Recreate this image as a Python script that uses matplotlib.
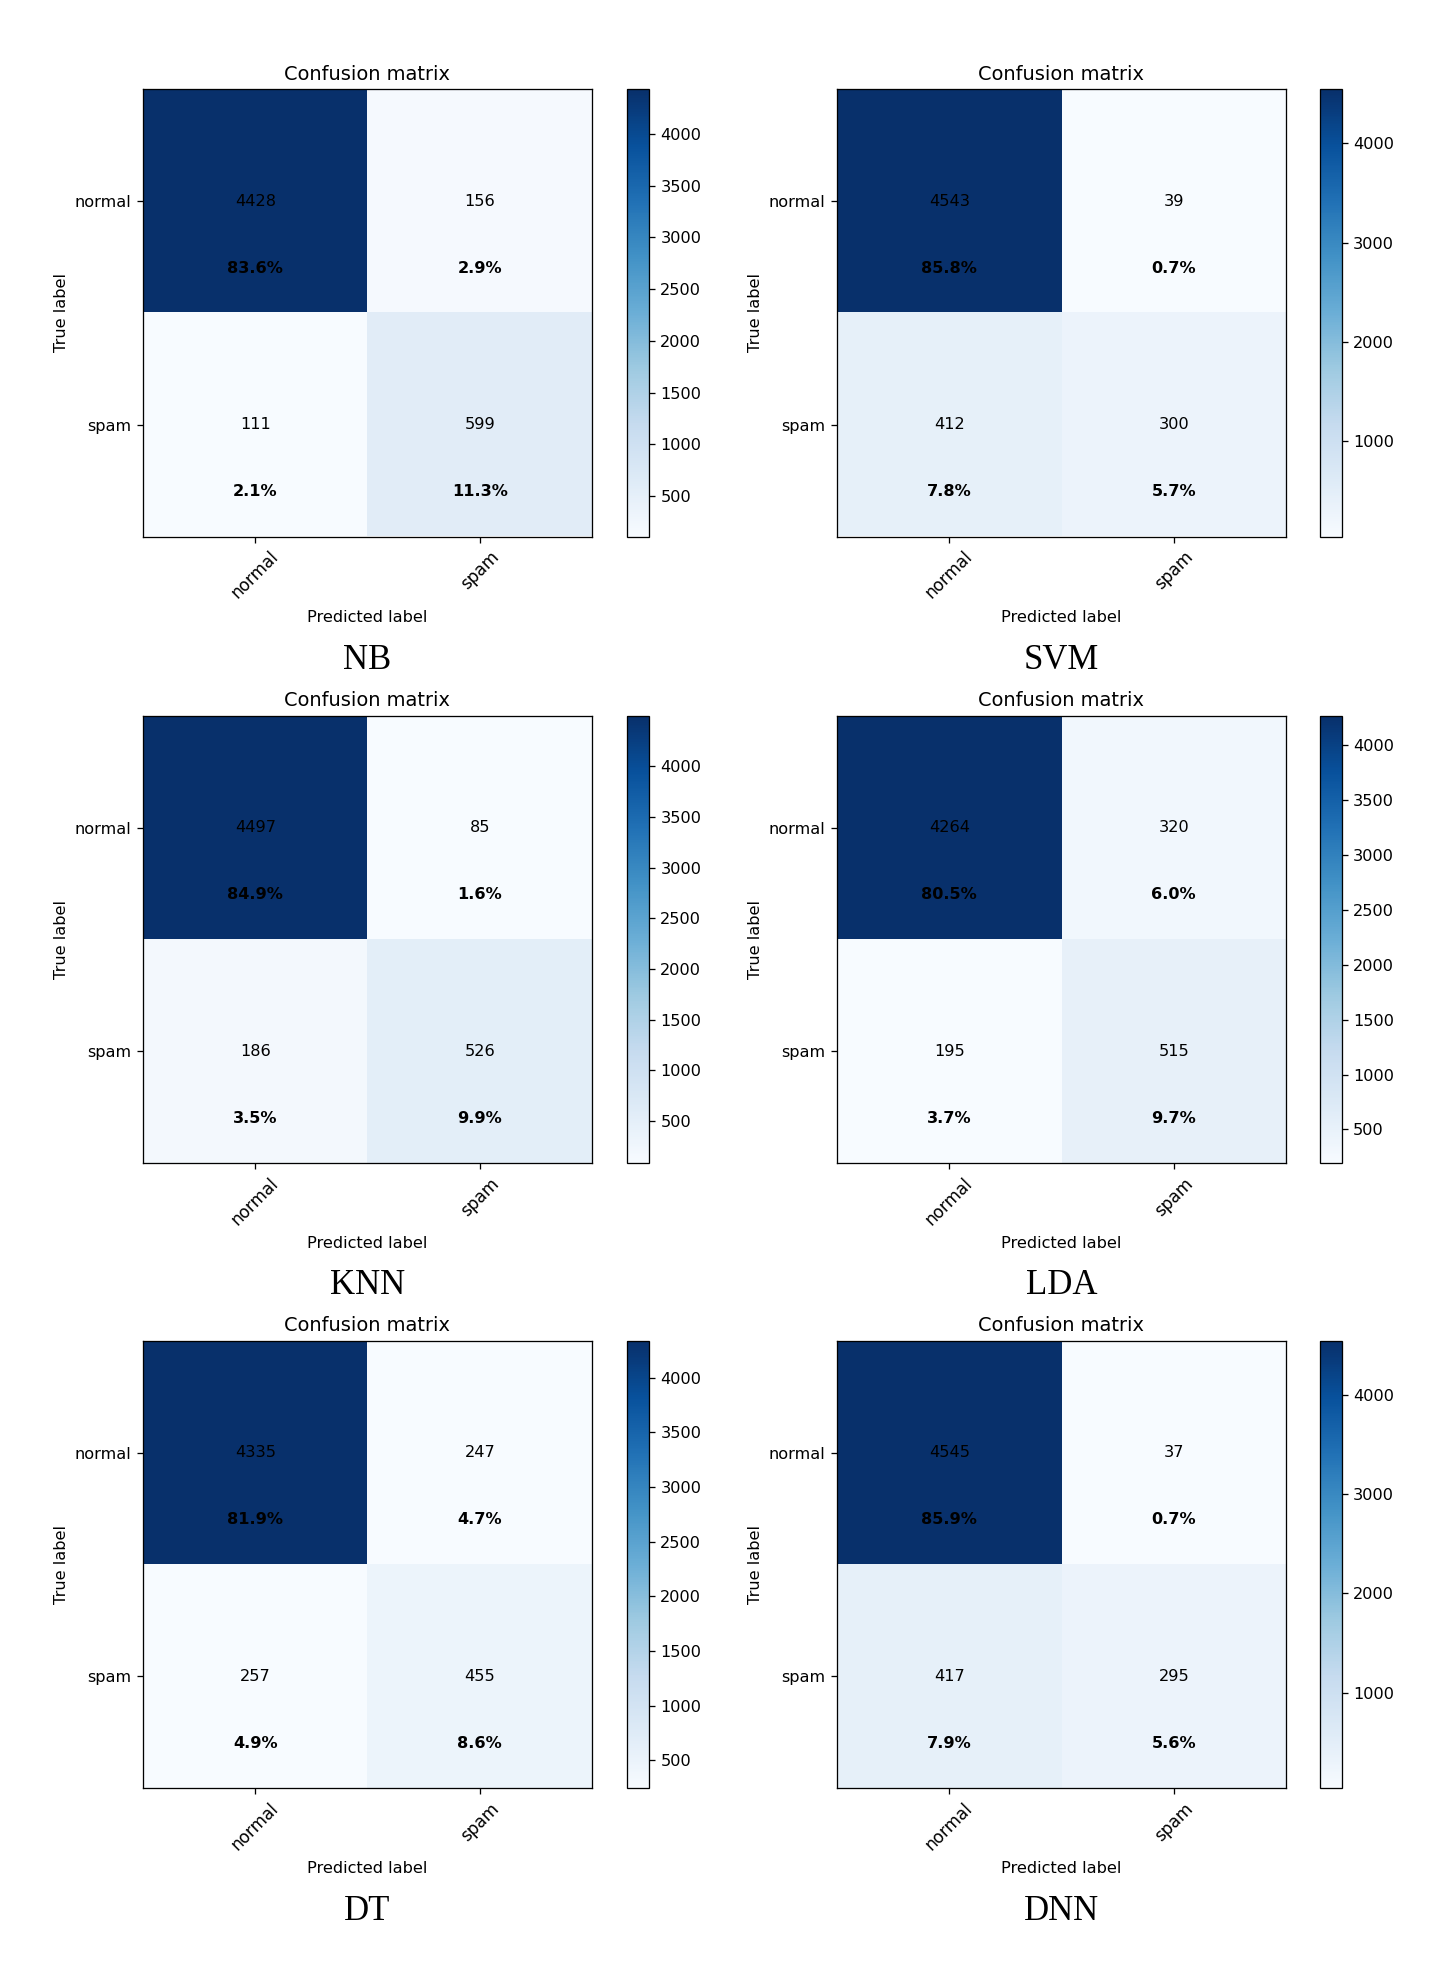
import matplotlib
matplotlib.use("Agg")
import matplotlib.pyplot as plt
import numpy as np

classes = ["normal", "spam"]
models = ["NB", "SVM", "KNN", "LDA", "DT", "DNN"]

cm_NB = [[4428, 156], [111, 599]]
cm_SVM = [[4543, 39], [412, 300]]
cm_KNN = [[4497, 85], [186, 526]]
cm_LDA = [[4264, 320], [195, 515]]
cm_DT = [[4335, 247], [257, 455]]
cm_DNN = [[4545, 37], [417, 295]]

pct_NB = ["83.6%", "2.9%", "2.1%", "11.3%"]
pct_SVM = ["85.8%", "0.7%", "7.8%", "5.7%"]
pct_KNN = ["84.9%", "1.6%", "3.5%", "9.9%"]
pct_LDA = ["80.5%", "6.0%", "3.7%", "9.7%"]
pct_DT = ["81.9%", "4.7%", "4.9%", "8.6%"]
pct_DNN = ["85.9%", "0.7%", "7.9%", "5.6%"]

cms = [cm_NB, cm_SVM, cm_KNN, cm_LDA, cm_DT, cm_DNN]
pcts = [pct_NB, pct_SVM, pct_KNN, pct_LDA, pct_DT, pct_DNN]

s = 1.16
plt.rcParams.update({
    "axes.linewidth": 0.8 * s,
    "xtick.major.size": 3.5 * s,
    "ytick.major.size": 3.5 * s,
    "xtick.major.width": 0.8 * s,
    "ytick.major.width": 0.8 * s,
    "xtick.major.pad": 3.5 * s,
    "ytick.major.pad": 3.5 * s,
    "axes.labelpad": 4.0 * s,
    "axes.titlepad": 6.0 * s,
})

W, H = 1433, 1966
fig = plt.figure(figsize=(W / 100, H / 100), dpi=100)
fig.patch.set_facecolor("white")

base = 10 * s
col_x = [143, 837]
cbar_x = [627, 1319.5]
row_top = [89.5, 716, 1341]
name_y = [660, 1286, 1912]
ax_w, ax_h = 449, 447
cb_w = 22

for k, (name, cm, pct) in enumerate(zip(models, cms, pcts)):
    r, c = divmod(k, 2)
    cm = np.array(cm)
    x0 = col_x[c] / W
    y0 = 1 - (row_top[r] + ax_h) / H
    ax = fig.add_axes([x0, y0, ax_w / W, ax_h / H])
    im = ax.imshow(cm, interpolation="nearest", cmap=plt.cm.Blues, aspect="auto")
    ax.set_title("Confusion matrix", fontsize=12 * s)
    cax = fig.add_axes([cbar_x[c] / W, y0, cb_w / W, ax_h / H])
    cb = fig.colorbar(im, cax=cax)
    cb.ax.tick_params(labelsize=base)
    ticks = np.arange(len(classes))
    ax.set_xticks(ticks)
    ax.set_xticklabels(classes, rotation=45, fontsize=base * 1.05)
    ax.set_yticks(ticks)
    ax.set_yticklabels(classes, fontsize=base)
    for i in range(2):
        for j in range(2):
            ax.text(j, i, str(cm[i, j]), ha="center", va="center",
                    color="black", fontsize=base)
            ax.text(j, i + 0.3, pct[i * 2 + j], ha="center", va="center",
                    color="black", fontsize=base, fontweight="bold")
    ax.set_ylabel("True label", fontsize=base)
    ax.set_xlabel("Predicted label", fontsize=base, labelpad=4.8 * s)
    cx = (col_x[c] + ax_w / 2) / W
    fig.text(cx, 1 - name_y[r] / H, name, ha="center", va="center",
             fontsize=25, family="Liberation Serif")

fig.savefig("out.png", dpi=100, facecolor="white")
